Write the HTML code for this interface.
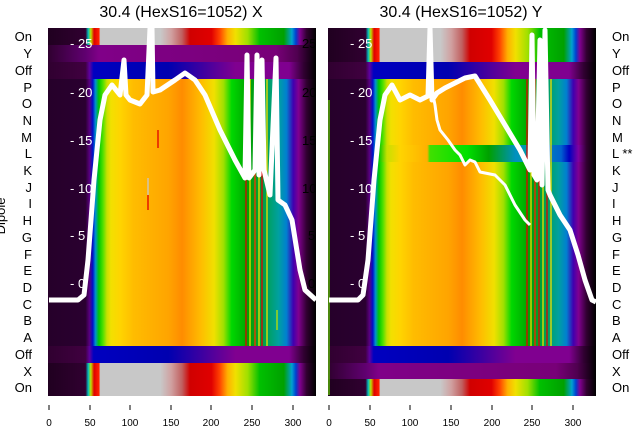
<!DOCTYPE html>
<html><head><meta charset="utf-8"><style>
html,body{margin:0;padding:0;background:#fff;width:640px;height:440px;overflow:hidden}
svg{display:block}
text{font-family:"Liberation Sans","DejaVu Sans",sans-serif}
</style></head><body>
<svg width="640" height="440" viewBox="0 0 640 440" xmlns="http://www.w3.org/2000/svg">
<defs>
<linearGradient id="gm">
<stop offset="0" stop-color="#26002a"/><stop offset="0.14" stop-color="#2a0030"/>
<stop offset="0.155" stop-color="#5a0080"/><stop offset="0.167" stop-color="#0010c8"/>
<stop offset="0.177" stop-color="#0090d0"/><stop offset="0.19" stop-color="#00c800"/>
<stop offset="0.205" stop-color="#50e000"/><stop offset="0.22" stop-color="#c8e000"/>
<stop offset="0.235" stop-color="#f2e000"/><stop offset="0.27" stop-color="#ffd400"/>
<stop offset="0.32" stop-color="#ffbc00"/><stop offset="0.45" stop-color="#ffa400"/>
<stop offset="0.50" stop-color="#ff8c00"/><stop offset="0.57" stop-color="#ffbc00"/>
<stop offset="0.62" stop-color="#f0e000"/><stop offset="0.655" stop-color="#a0e000"/>
<stop offset="0.685" stop-color="#00d800"/><stop offset="0.75" stop-color="#00a000"/>
<stop offset="0.81" stop-color="#00a050"/><stop offset="0.86" stop-color="#00a0a0"/>
<stop offset="0.89" stop-color="#0080d0"/><stop offset="0.915" stop-color="#4000b0"/>
<stop offset="0.935" stop-color="#800090"/><stop offset="0.965" stop-color="#300030"/>
<stop offset="1" stop-color="#000"/>
</linearGradient>
<linearGradient id="gL">
<stop offset="0" stop-color="#26002a"/><stop offset="0.14" stop-color="#2a0030"/>
<stop offset="0.155" stop-color="#5a0080"/><stop offset="0.167" stop-color="#0010c8"/>
<stop offset="0.177" stop-color="#0090d0"/><stop offset="0.19" stop-color="#00c800"/>
<stop offset="0.22" stop-color="#c8e000"/><stop offset="0.27" stop-color="#ffd400"/>
<stop offset="0.37" stop-color="#ffb000"/><stop offset="0.38" stop-color="#40e000"/>
<stop offset="0.52" stop-color="#00e000"/><stop offset="0.6" stop-color="#00a000"/>
<stop offset="0.7" stop-color="#0090c0"/><stop offset="0.76" stop-color="#00a0a0"/>
<stop offset="0.87" stop-color="#0060d0"/><stop offset="0.9" stop-color="#0000c0"/>
<stop offset="0.935" stop-color="#8000a0"/><stop offset="0.965" stop-color="#300030"/>
<stop offset="1" stop-color="#000"/>
</linearGradient>
<linearGradient id="gb">
<stop offset="0" stop-color="#300030"/><stop offset="0.14" stop-color="#400040"/>
<stop offset="0.155" stop-color="#6000a0"/><stop offset="0.17" stop-color="#0000c0"/>
<stop offset="0.45" stop-color="#0000b0"/><stop offset="0.58" stop-color="#4000a0"/>
<stop offset="0.7" stop-color="#800090"/><stop offset="0.9" stop-color="#800090"/>
<stop offset="0.955" stop-color="#300030"/><stop offset="1" stop-color="#000"/>
</linearGradient>
<linearGradient id="gp">
<stop offset="0" stop-color="#300030"/><stop offset="0.14" stop-color="#600070"/>
<stop offset="0.19" stop-color="#800088"/><stop offset="0.85" stop-color="#780078"/>
<stop offset="0.93" stop-color="#500050"/><stop offset="1" stop-color="#000"/>
</linearGradient>
<linearGradient id="go">
<stop offset="0" stop-color="#200020"/><stop offset="0.14" stop-color="#300030"/>
<stop offset="0.15" stop-color="#00c0c0"/><stop offset="0.16" stop-color="#c0e000"/>
<stop offset="0.172" stop-color="#e00000"/><stop offset="0.19" stop-color="#ff2000"/>
<stop offset="0.195" stop-color="#c8c8c8"/><stop offset="0.42" stop-color="#c8c8c8"/>
<stop offset="0.46" stop-color="#d0a0a0"/><stop offset="0.5" stop-color="#c06060"/>
<stop offset="0.53" stop-color="#d00000"/><stop offset="0.61" stop-color="#e00000"/>
<stop offset="0.64" stop-color="#ff4000"/><stop offset="0.67" stop-color="#ffb000"/>
<stop offset="0.70" stop-color="#f0e000"/><stop offset="0.745" stop-color="#a0e000"/>
<stop offset="0.79" stop-color="#00c000"/><stop offset="0.88" stop-color="#00a000"/>
<stop offset="0.91" stop-color="#00a0d0"/><stop offset="0.925" stop-color="#0040d0"/>
<stop offset="0.94" stop-color="#800090"/><stop offset="0.965" stop-color="#300030"/>
<stop offset="1" stop-color="#000"/>
</linearGradient>
</defs>

<!-- Left panel -->
<g>
<rect x="48" y="28" width="268" height="17" fill="url(#go)"/>
<rect x="48" y="45" width="268" height="17" fill="url(#gp)"/>
<rect x="48" y="62" width="268" height="17" fill="url(#gb)"/>
<rect x="48" y="79" width="268" height="267" fill="url(#gm)"/>
<rect x="48" y="346" width="268" height="17" fill="url(#gb)"/>
<rect x="48" y="363" width="268" height="33" fill="url(#go)"/>
<g stroke-width="1.3">
<line x1="246" y1="79" x2="246" y2="346" stroke="#e00000"/>
<line x1="250" y1="79" x2="250" y2="346" stroke="#f0e000"/>
<line x1="255" y1="79" x2="255" y2="346" stroke="#ff3000"/>
<line x1="259" y1="79" x2="259" y2="346" stroke="#f0e000"/>
<line x1="262" y1="79" x2="262" y2="346" stroke="#e00000"/>
<line x1="267" y1="79" x2="267" y2="346" stroke="#f0e000"/>
<line x1="158" y1="130" x2="158" y2="148" stroke="#e00000"/>
<line x1="148" y1="178" x2="148" y2="195" stroke="#c8c8c8"/>
<line x1="148" y1="195" x2="148" y2="210" stroke="#e00000"/>
<line x1="277" y1="310" x2="277" y2="330" stroke="#c0e000"/>
</g>
<g fill="#fff" font-size="13">
<text x="70" y="48">- 25</text><text x="70" y="97">- 20</text><text x="70" y="145">- 15</text>
<text x="70" y="193">- 10</text><text x="70" y="240">- 5</text><text x="70" y="288">- 0</text>
</g>
<polyline fill="none" stroke="#fff" stroke-width="5" stroke-linejoin="round" points="49,300 78,300 84,295 88,260 94,180 100,120 105,95 112,85 120,95 124,60 126,95 130,100 140,104 147,95 150,28 152,28 153,92 160,90 175,80 185,73 195,80 205,95 220,130 235,160 245,178 247,55 249,178 255,170 257,55 259,175 262,60 264,170 270,195 276,58 278,200 285,205 292,220 300,270 305,290 316,300"/>
<g fill="#000" font-size="13" text-anchor="end">
<text x="32" y="41">On</text><text x="32" y="58">Y</text><text x="32" y="75">Off</text>
<text x="32" y="92">P</text><text x="32" y="108">O</text><text x="32" y="125">N</text>
<text x="32" y="142">M</text><text x="32" y="158">L</text><text x="32" y="175">K</text>
<text x="32" y="192">J</text><text x="32" y="208">I</text><text x="32" y="225">H</text>
<text x="32" y="242">G</text><text x="32" y="259">F</text><text x="32" y="275">E</text>
<text x="32" y="292">D</text><text x="32" y="309">C</text><text x="32" y="325">B</text>
<text x="32" y="342">A</text><text x="32" y="359">Off</text><text x="32" y="376">X</text>
<text x="32" y="392">On</text>
</g>
<text x="5" y="216" font-size="13" transform="rotate(-90 5 216)" text-anchor="middle">Dipole</text>
<text x="181" y="17" font-size="16" text-anchor="middle">30.4 (HexS16=1052) X</text>
<g stroke="#000"><line x1="49" y1="405" x2="49" y2="410"/><line x1="90" y1="405" x2="90" y2="410"/><line x1="130" y1="405" x2="130" y2="410"/><line x1="171" y1="405" x2="171" y2="410"/><line x1="211" y1="405" x2="211" y2="410"/><line x1="252" y1="405" x2="252" y2="410"/><line x1="293" y1="405" x2="293" y2="410"/></g>
<g font-size="10" text-anchor="middle"><text x="49" y="426">0</text><text x="90" y="426">50</text><text x="130" y="426">100</text><text x="171" y="426">150</text><text x="211" y="426">200</text><text x="252" y="426">250</text><text x="293" y="426">300</text></g>
</g>

<g fill="#000" font-size="13"><text x="302" y="48">25</text><text x="302" y="97">20</text><text x="302" y="145">15</text><text x="302" y="193">10</text><text x="308" y="240">5</text><text x="308" y="288">0</text></g>

<!-- Right panel -->
<g>
<rect x="328" y="28" width="268" height="34" fill="url(#go)"/>
<rect x="328" y="62" width="268" height="17" fill="url(#gb)"/>
<rect x="328" y="79" width="268" height="66" fill="url(#gm)"/>
<rect x="328" y="145" width="268" height="17" fill="url(#gL)"/>
<rect x="328" y="162" width="268" height="184" fill="url(#gm)"/>
<rect x="328" y="346" width="268" height="17" fill="url(#gb)"/>
<rect x="328" y="363" width="268" height="16" fill="url(#gp)"/>
<rect x="328" y="379" width="268" height="17" fill="url(#go)"/>
<g stroke-width="1.3">
<line x1="527" y1="79" x2="527" y2="346" stroke="#e00000"/>
<line x1="531" y1="79" x2="531" y2="346" stroke="#f0e000"/>
<line x1="535" y1="79" x2="535" y2="346" stroke="#ff2000"/>
<line x1="539" y1="79" x2="539" y2="346" stroke="#e00000"/>
<line x1="543" y1="79" x2="543" y2="346" stroke="#f0e000"/>
<line x1="547" y1="79" x2="547" y2="346" stroke="#e00000"/>
<line x1="551" y1="79" x2="551" y2="346" stroke="#f0e000"/>
<line x1="329" y1="100" x2="329" y2="395" stroke="#60d000"/>
</g>
<g fill="#fff" font-size="13">
<text x="350" y="48">- 25</text><text x="350" y="97">- 20</text><text x="350" y="145">- 15</text>
<text x="350" y="193">- 10</text><text x="350" y="240">- 5</text><text x="350" y="288">- 0</text>
</g>
<polyline fill="none" stroke="#fff" stroke-width="5" stroke-linejoin="round" points="329,300 358,300 363,295 368,260 374,180 380,120 385,95 392,85 400,100 410,95 420,100 428,96 430,28 432,100 437,93 445,88 455,83 465,78 475,76 490,100 505,125 520,150 530,170 532,35 534,175 537,180 540,40 542,185 545,30 548,190 550,195 560,215 570,230 578,255 585,280 592,300 596,302"/>
<polyline fill="none" stroke="#fff" stroke-width="3" stroke-linejoin="round" points="433,95 435,105 437,120 440,130 448,140 455,150 460,155 465,165 470,160 475,162 480,172 495,175 505,185 515,205 525,220 530,225"/>
<g fill="#000" font-size="13">
<text x="612" y="41">On</text><text x="612" y="58">Y</text><text x="612" y="75">Off</text>
<text x="612" y="92">P</text><text x="612" y="108">O</text><text x="612" y="125">N</text>
<text x="612" y="142">M</text><text x="612" y="158">L **</text><text x="612" y="175">K</text>
<text x="612" y="192">J</text><text x="612" y="208">I</text><text x="612" y="225">H</text>
<text x="612" y="242">G</text><text x="612" y="259">F</text><text x="612" y="275">E</text>
<text x="612" y="292">D</text><text x="612" y="309">C</text><text x="612" y="325">B</text>
<text x="612" y="342">A</text><text x="612" y="359">Off</text><text x="612" y="376">X</text>
<text x="612" y="392">On</text>
</g>
<text x="461" y="17" font-size="16" text-anchor="middle">30.4 (HexS16=1052) Y</text>
<g stroke="#000"><line x1="329" y1="405" x2="329" y2="410"/><line x1="370" y1="405" x2="370" y2="410"/><line x1="410" y1="405" x2="410" y2="410"/><line x1="451" y1="405" x2="451" y2="410"/><line x1="492" y1="405" x2="492" y2="410"/><line x1="532" y1="405" x2="532" y2="410"/><line x1="573" y1="405" x2="573" y2="410"/></g>
<g font-size="10" text-anchor="middle"><text x="329" y="426">0</text><text x="370" y="426">50</text><text x="410" y="426">100</text><text x="451" y="426">150</text><text x="492" y="426">200</text><text x="532" y="426">250</text><text x="573" y="426">300</text></g>
</g>
</svg>
</body></html>
